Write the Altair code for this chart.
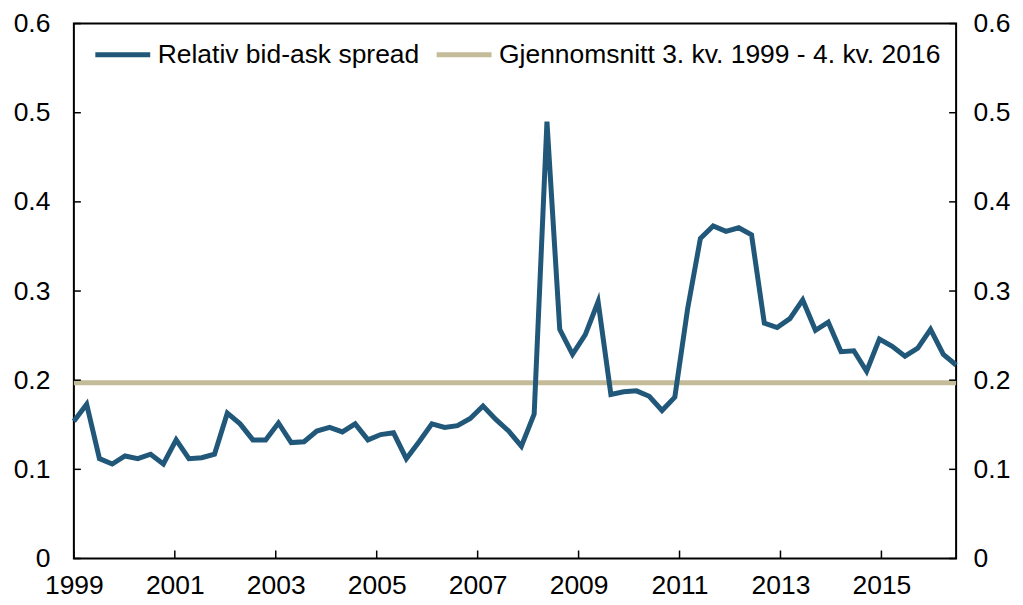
import altair as alt
import pandas as pd

# Relativ bid-ask spread, quarterly from 3. kv. 1999 to 4. kv. 2016
spread = [
    0.154, 0.173, 0.112, 0.106, 0.115, 0.112, 0.117, 0.106, 0.133, 0.112,
    0.113, 0.117, 0.163, 0.151, 0.133, 0.133, 0.152, 0.130, 0.131, 0.143,
    0.147, 0.142, 0.151, 0.133, 0.139, 0.141, 0.112, 0.131, 0.151, 0.147,
    0.149, 0.157, 0.171, 0.156, 0.143, 0.126, 0.162, 0.490, 0.257, 0.229,
    0.251, 0.288, 0.184, 0.187, 0.188, 0.182, 0.166, 0.181, 0.280, 0.359,
    0.373, 0.367, 0.371, 0.363, 0.264, 0.259, 0.269, 0.290, 0.256, 0.265,
    0.232, 0.233, 0.210, 0.246, 0.238, 0.227, 0.236, 0.257, 0.229, 0.217,
]
average_value = 0.197

quarters = [f"{y}K{q}" for y in range(1999, 2017) for q in range(1, 5)][2:]

tick_years = [1999, 2001, 2003, 2005, 2007, 2009, 2011, 2013, 2015]
year_axis_end = 2016.48
y_ticks = [0.0, 0.1, 0.2, 0.3, 0.4, 0.5, 0.6]

SERIES_A = "Relativ bid-ask spread"
SERIES_B = "Gjennomsnitt 3. kv. 1999 - 4. kv. 2016"
BLUE = "#21587A"
TAN = "#C4BB98"
FONT = "Liberation Sans"
FS = 26.5

W, H = 884, 536

line_df = pd.DataFrame({"quarter": quarters, "value": spread, "series": SERIES_A})
avg_df = pd.DataFrame({"value": [average_value], "series": [SERIES_B]})
yt_df = pd.DataFrame({"v": y_ticks})
xt_df = pd.DataFrame({"year": tick_years})

lab = dict(labelFont=FONT, labelFontSize=FS, labelColor="black")

y_scale = alt.Scale(domain=[0, 0.6], nice=False, zero=True)
color = alt.Color(
    "series:N",
    scale=alt.Scale(domain=[SERIES_A, SERIES_B], range=[BLUE, TAN]),
    sort=[SERIES_A, SERIES_B],
    legend=alt.Legend(
        orient="none", legendX=19, legendY=1, direction="horizontal", title=None,
        symbolType="stroke", symbolStrokeWidth=5, symbolSize=3025,
        labelOffset=5, columnPadding=6, padding=0, labelLimit=1000, **lab,
    ),
)

avg_rule = alt.Chart(avg_df).mark_rule(strokeWidth=5).encode(
    y=alt.Y("value:Q", scale=y_scale, axis=None),
    color=color,
)

line = alt.Chart(line_df).mark_line(strokeWidth=5, strokeJoin="miter").encode(
    x=alt.X("quarter:O", sort=None, scale=alt.Scale(type="point", padding=0), axis=None),
    y=alt.Y("value:Q", scale=y_scale, axis=alt.Axis(
        orient="left", values=y_ticks, format=".1~f", ticks=False, domain=False,
        grid=False, title=None, labelPadding=24, **lab)),
    color=color,
)

left_ticks = alt.Chart(yt_df).mark_rule(color="black", strokeWidth=1.5).encode(
    y=alt.Y("v:Q", scale=y_scale, axis=None),
    x=alt.value(0), x2=alt.value(7),
)

right_ticks = alt.Chart(yt_df).mark_rule(color="black", strokeWidth=1.5).encode(
    y=alt.Y("v:Q", scale=y_scale, axis=alt.Axis(
        orient="right", values=y_ticks, format=".1~f", ticks=False, domain=False,
        grid=False, title=None, labelPadding=17, **lab)),
    x=alt.value(W - 7), x2=alt.value(W),
)

bottom_ticks = alt.Chart(xt_df).mark_rule(color="black", strokeWidth=1.5).encode(
    x=alt.X("year:Q", scale=alt.Scale(domain=[tick_years[0], year_axis_end], nice=False, zero=False),
            axis=alt.Axis(orient="bottom", values=tick_years, format="d", ticks=False,
                          domain=False, grid=False, title=None, labelPadding=14,
                          labelFlush=False, labelOverlap=False, **lab)),
    y=alt.value(H), y2=alt.value(H - 8),
)

chart = alt.layer(avg_rule, line, left_ticks, right_ticks, bottom_ticks).resolve_scale(
    x="independent"
).resolve_axis(y="independent", x="independent").properties(
    width=W, height=H, background="white",
    padding={"left": 5, "top": 2, "right": 5, "bottom": 5}
).configure_view(
    stroke="black", strokeWidth=2
)

chart.save("out.html", embed_options={"renderer": "svg", "actions": False})
